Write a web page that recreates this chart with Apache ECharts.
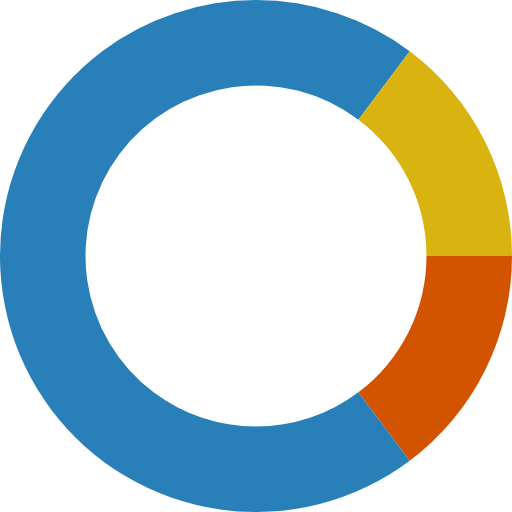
<!DOCTYPE html>
<html>
<head>
<meta charset="utf-8">
<script src="https://cdn.jsdelivr.net/npm/echarts@6/dist/echarts.min.js"></script>
<style>
	html, body { margin: 0; padding: 0; background: #fff; }
	#chart { width: 512px; height: 512px; }
</style>
</head>
<body>
<div id="chart"></div>
<script>
	// Slices, clockwise from 3 o'clock
	var names = [ 'Orange', 'Blue', 'Yellow' ];
	var values = [ 14.75, 70.5, 14.75 ];
	var colors = [ '#d35400', '#2980b9', '#d9b310' ];

	var chart = echarts.init( document.getElementById( 'chart' ) );

	var data = names.map( function ( n, i ) {
		return { name: n, value: values[i], itemStyle: { color: colors[i] } };
	} );

	chart.setOption( {
		animation: false,
		series: [
			{
				type: 'pie',
				center: [ '50%', '50%' ],
				radius: [ '66.6%', '100%' ],
				startAngle: 0,
				clockwise: true,
				label: { show: false },
				labelLine: { show: false },
				emphasis: { disabled: true },
				itemStyle: { borderWidth: 0 },
				data: data
			}
		]
	} );
</script>
</body>
</html>
